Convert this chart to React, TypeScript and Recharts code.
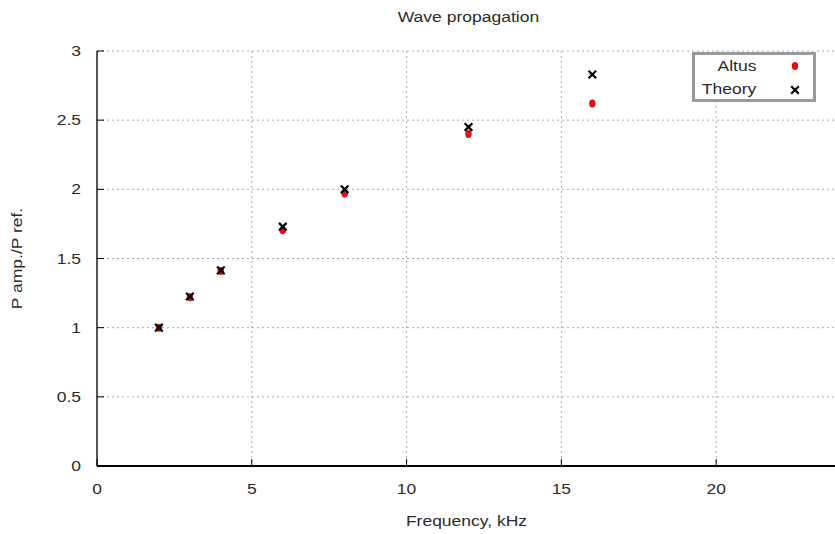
import React from 'react';
import { ScatterChart, Scatter, XAxis, YAxis, CartesianGrid, Legend } from 'recharts';

const freqs = [2, 3, 4, 6, 8, 12, 16];
const altusValues = [1.0, 1.22, 1.41, 1.705, 1.97, 2.4, 2.62];
const theoryValues = [1.0, 1.225, 1.414, 1.73, 2.0, 2.45, 2.83];
const xTicks = [0, 5, 10, 15, 20];
const yTicks = [0, 0.5, 1, 1.5, 2, 2.5, 3];

const altusData = freqs.map((f, i) => ({ x: f, y: altusValues[i] }));
const theoryData = freqs.map((f, i) => ({ x: f, y: theoryValues[i] }));

const FONT = '"Liberation Sans", Arial, sans-serif';
const FS = 15.5;
const SX = 1.13;
const TXT = '#2a2a2a';
const RED = '#e01010';

const W = 845;
const H = 526;
const M = { top: 43, right: 13, bottom: 38, left: 0 };
const YW = 89;
const XH = 30;

const SText = ({ x, y, rotate = 0, anchor = 'middle', baseline = 'central', children }: any) => (
  <text
    transform={`translate(${x},${y}) rotate(${rotate}) scale(${SX},1)`}
    textAnchor={anchor}
    dominantBaseline={baseline}
    fontSize={FS}
    fill={TXT}
    fontFamily={FONT}
  >
    {children}
  </text>
);

const RedDot = (props: any) => {
  const { cx, cy } = props;
  if (cx == null || cy == null) return null;
  return <ellipse cx={cx} cy={cy} rx={3.2} ry={4} fill={RED} />;
};

const Cross = (props: any) => {
  const { cx, cy } = props;
  if (cx == null || cy == null) return null;
  const s = 3.8;
  return (
    <path
      d={`M${cx - s},${cy - s}L${cx + s},${cy + s}M${cx - s},${cy + s}L${cx + s},${cy - s}`}
      stroke="#000"
      strokeWidth={2.2}
      fill="none"
    />
  );
};

const YTick = (props: any) => {
  const { x, y, payload } = props;
  const ax = x + 16;
  return (
    <g>
      <line x1={ax} x2={ax + 7} y1={y} y2={y} stroke="#000" strokeWidth={1} />
      <SText x={x} y={y} anchor="end">{payload.value}</SText>
    </g>
  );
};

const XTick = (props: any) => {
  const { x, y, payload } = props;
  const ay = y - 17;
  return (
    <g>
      <line x1={x} x2={x} y1={ay} y2={ay - 7} stroke="#000" strokeWidth={1} />
      <SText x={x} y={y + 6}>{payload.value}</SText>
    </g>
  );
};

const TopTick = (props: any) => {
  const { x, y } = props;
  return <line x1={x} x2={x} y1={y} y2={y + 7} stroke="#000" strokeWidth={1} />;
};

const legendText: React.CSSProperties = {
  position: 'absolute',
  right: 57,
  lineHeight: '18px',
  transform: `scaleX(${SX})`,
  transformOrigin: 'right center',
  whiteSpace: 'nowrap',
};

const LegendBox = () => (
  <div
    style={{
      boxSizing: 'border-box',
      width: 124,
      height: 50,
      border: '3px solid #999',
      background: '#fff',
      position: 'relative',
      fontFamily: FONT,
      fontSize: FS,
      color: TXT,
    }}
  >
    <div style={{ ...legendText, top: 2 }}>Altus</div>
    <div style={{ ...legendText, top: 25 }}>Theory</div>
    <svg style={{ position: 'absolute', left: 0, top: 0 }} width={118} height={44}>
      <ellipse cx={100} cy={11} rx={3.2} ry={4} fill={RED} />
      <path d="M96.2,31.2L103.8,38.8M96.2,38.8L103.8,31.2" stroke="#000" strokeWidth={2.2} />
    </svg>
  </div>
);

export default function App() {
  const plotCenterX = (YW + (W - M.right)) / 2;
  const plotCenterY = (M.top + (H - M.bottom - XH)) / 2;
  return (
    <div
      style={{
        position: 'fixed',
        left: 0,
        top: 0,
        width: 835,
        height: 534,
        overflow: 'hidden',
        background: '#fff',
      }}
    >
      <div style={{ position: 'absolute', left: 8, top: 8, width: W, height: H }}>
        <div
          style={{
            position: 'absolute',
            left: 0,
            top: 0,
            width: plotCenterX * 2,
            textAlign: 'center',
            fontFamily: FONT,
            fontSize: FS,
            lineHeight: '18px',
            color: TXT,
            zIndex: 2,
            transform: `scaleX(${SX})`,
            transformOrigin: `${plotCenterX}px 0`,
          }}
        >
          Wave propagation
        </div>
        <ScatterChart width={W} height={H} margin={M}>
          <CartesianGrid stroke="#aaa" strokeDasharray="2 3" strokeWidth={1} />
          <XAxis
            type="number"
            dataKey="x"
            domain={[0, 24]}
            ticks={xTicks}
            interval={0}
            allowDataOverflow
            height={XH}
            tickSize={0}
            tickMargin={17}
            tickLine={false}
            axisLine={{ stroke: '#000', strokeWidth: 2 }}
            tick={<XTick />}
            label={{
              content: () => <SText x={plotCenterX - 2} y={513}>Frequency, kHz</SText>,
            }}
          />
          <XAxis
            xAxisId="top"
            orientation="top"
            type="number"
            dataKey="x"
            domain={[0, 24]}
            ticks={xTicks}
            interval={0}
            height={0}
            tickSize={0}
            tickMargin={0}
            tickLine={false}
            axisLine={{ stroke: '#666', strokeWidth: 2 }}
            tick={<TopTick />}
          />
          <YAxis
            type="number"
            dataKey="y"
            domain={[0, 3]}
            ticks={yTicks}
            interval={0}
            width={YW}
            tickSize={0}
            tickMargin={16}
            tickLine={false}
            axisLine={{ stroke: '#555', strokeWidth: 2 }}
            tick={<YTick />}
            label={{
              content: () => (
                <SText x={9} y={plotCenterY} rotate={-90}>
                  P amp./P ref.
                </SText>
              ),
            }}
          />
          <Legend
            layout="vertical"
            align="center"
            verticalAlign="middle"
            content={<LegendBox />}
            wrapperStyle={{ position: 'absolute', left: 684, top: 44, width: 124, height: 50 }}
          />
          <Scatter name="Altus" data={altusData} fill={RED} shape={<RedDot />} isAnimationActive={false} />
          <Scatter name="Theory" data={theoryData} fill="#000" shape={<Cross />} isAnimationActive={false} />
        </ScatterChart>
      </div>
    </div>
  );
}
